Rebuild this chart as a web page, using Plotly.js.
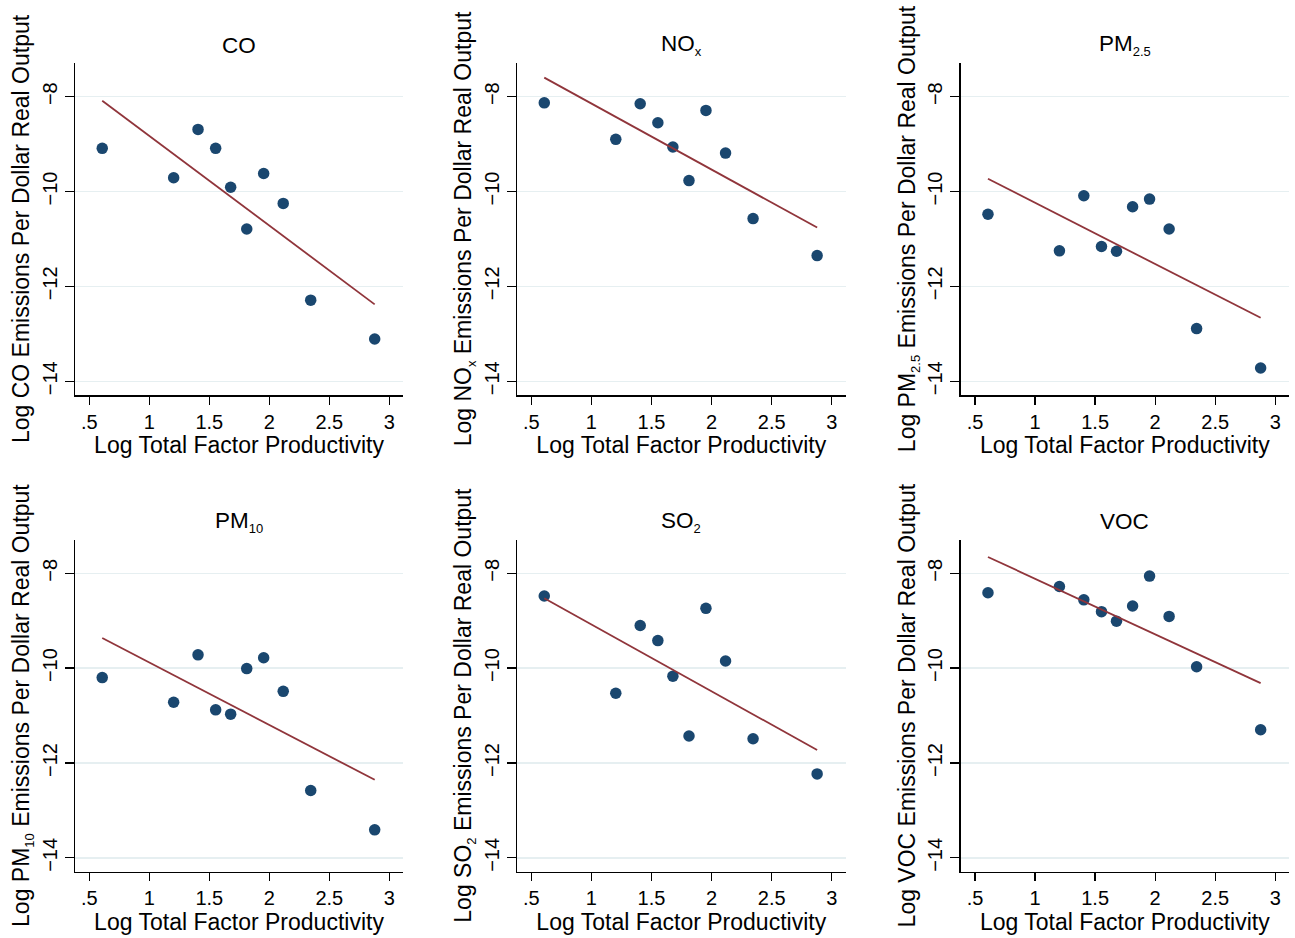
<!DOCTYPE html>
<html>
<head>
<meta charset="utf-8">
<script src="https://cdn.plot.ly/plotly-3.0.1.min.js"></script>
<style>html,body{margin:0;padding:0;background:#fff;}#chart{width:1295px;height:938px;}</style>
</head>
<body>
<div id="chart"></div>
<script>
// Data
const tfp  = [0.608, 1.203, 1.406, 1.553, 1.678, 1.812, 1.953, 2.116, 2.345, 2.878];
const co   = [-9.09, -9.71, -8.69, -9.09, -9.91, -10.79, -9.62, -10.25, -12.29, -13.11];
const nox  = [-8.13, -8.90, -8.15, -8.55, -9.06, -9.77, -8.29, -9.19, -10.57, -11.35];
const pm25 = [-10.48, -11.25, -10.09, -11.16, -11.26, -10.32, -10.16, -10.79, -12.89, -13.72];
const pm10 = [-10.20, -10.72, -9.72, -10.88, -10.97, -10.01, -9.78, -10.49, -12.58, -13.41];
const so2  = [-8.48, -10.53, -9.10, -9.42, -10.17, -11.43, -8.74, -9.85, -11.49, -12.23];
const voc  = [-8.41, -8.28, -8.56, -8.81, -9.01, -8.69, -8.06, -8.91, -9.97, -11.30];

const panelBase = ["CO", "NO", "PM", "PM", "SO", "VOC"];
const panelSub  = ["", "x", "2.5", "10", "2", ""];
const panelSeries = [co, nox, pm25, pm10, so2, voc];
const yTicks = [-8, -10, -12, -14];
const xTicks = [0.5, 1, 1.5, 2, 2.5, 3];
const xTickLabels = [".5", "1", "1.5", "2", "2.5", "3"];
const xTitle = "Log Total Factor Productivity";

function label(i) {
  return panelSub[i] ? panelBase[i] + "<sub><span style='font-size:13px'>" + panelSub[i] + "</span></sub>" : panelBase[i];
}

function ols(x, y) {
  const n = x.length;
  const mx = x.reduce((a, b) => a + b, 0) / n;
  const my = y.reduce((a, b) => a + b, 0) / n;
  let sxy = 0, sxx = 0;
  for (let i = 0; i < n; i++) { sxy += (x[i] - mx) * (y[i] - my); sxx += (x[i] - mx) ** 2; }
  const b = sxy / sxx;
  return { a: my - b * mx, b: b };
}

const W = 1295, H = 938;
const colsPx = [[75, 403], [517, 845.5], [960.7, 1289]];
const rowsPx = [[63, 395], [539.6, 871.6]];
const FONT = "Liberation Sans, Arial, Helvetica, sans-serif";

const traces = [];
const layout = {
  width: W, height: H,
  margin: { l: 0, r: 0, t: 0, b: 0 },
  paper_bgcolor: "#ffffff", plot_bgcolor: "#ffffff",
  showlegend: false,
  font: { family: FONT, size: 20, color: "#000" },
  annotations: []
};

panelSeries.forEach((ys, i) => {
  const k = i + 1;
  const r = Math.floor(i / 3), c = i % 3;
  const xa = "x" + (k === 1 ? "" : k), ya = "y" + (k === 1 ? "" : k);
  traces.push({
    x: tfp, y: ys, xaxis: xa, yaxis: ya, type: "scatter", mode: "markers",
    marker: { color: "#1a476f", size: 11.5, line: { width: 0 } }, hoverinfo: "x+y"
  });
  const f = ols(tfp, ys);
  const xmin = Math.min(...tfp), xmax = Math.max(...tfp);
  traces.push({
    x: [xmin, xmax], y: [f.a + f.b * xmin, f.a + f.b * xmax], xaxis: xa, yaxis: ya,
    type: "scatter", mode: "lines", line: { color: "#90353b", width: 1.8 }
  });
  const xd = [colsPx[c][0] / W, colsPx[c][1] / W];
  const yd = [1 - rowsPx[r][1] / H, 1 - rowsPx[r][0] / H];
  layout["xaxis" + (k === 1 ? "" : k)] = {
    domain: xd, anchor: ya, range: [0.381, 3.114],
    tickmode: "array", tickvals: xTicks, ticktext: xTickLabels,
    ticks: "outside", ticklen: 8, tickwidth: 1.3, tickcolor: "#000",
    showline: true, linecolor: "#000", linewidth: 1.5, showgrid: false, zeroline: false,
    tickfont: { size: 20, family: FONT, color: "#000" },
    title: { text: xTitle, font: { size: 23, family: FONT, color: "#000" }, standoff: 0 }
  };
  layout["yaxis" + (k === 1 ? "" : k)] = {
    domain: yd, anchor: xa, range: [-14.29, -7.29],
    tickmode: "array", tickvals: yTicks,
    ticks: "outside", ticklen: 9, tickwidth: 1.3, tickcolor: "#000", tickangle: -90,
    showline: true, linecolor: "#000", linewidth: 1.5,
    showgrid: true, gridcolor: "#e6eff1", gridwidth: 1.5, zeroline: false,
    tickfont: { size: 20, family: FONT, color: "#000" },
    title: { text: "Log " + label(i) + " Emissions Per Dollar Real Output", font: { size: 23, family: FONT, color: "#000" }, standoff: 2 }
  };
  layout.annotations.push({
    text: label(i), xref: "paper", yref: "paper",
    x: (xd[0] + xd[1]) / 2, y: 1 - (rowsPx[r][0] - 18) / H,
    xanchor: "center", yanchor: "middle", showarrow: false,
    font: { size: 22.5, family: FONT, color: "#000" }
  });
});

Plotly.newPlot("chart", traces, layout, { displayModeBar: false, staticPlot: true });
</script>
</body>
</html>
